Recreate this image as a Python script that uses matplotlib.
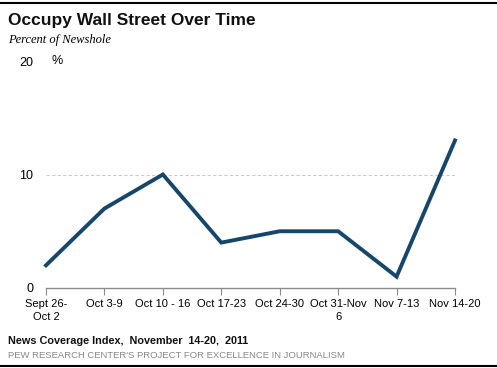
import matplotlib
matplotlib.use("Agg")
import matplotlib.pyplot as plt
from matplotlib.lines import Line2D

categories = ["Sept 26-\nOct 2", "Oct 3-9", "Oct 10 - 16", "Oct 17-23", "Oct 24-30",
              "Oct 31-Nov\n6", "Nov 7-13", "Nov 14-20"]
values = [2, 7, 10, 4, 5, 5, 1, 13]
yticks = [0, 10, 20]

W, H = 497, 368
fig = plt.figure(figsize=(W / 100, H / 100), dpi=100)
fig.patch.set_facecolor("white")
SANS = ["Liberation Sans", "DejaVu Sans"]

left, right, bottom, top = 46, 455, 288, 61
ax = fig.add_axes([left / W, 1 - bottom / H, (right - left) / W, (bottom - top) / H])
x = list(range(len(values)))
ax.plot(x, values, color="#16476b", lw=2.8, solid_joinstyle="miter", clip_on=False, zorder=3)
ax.set_xlim(0, len(values) - 1)
ax.set_ylim(0, 20)

for s in ["top", "right", "left"]:
    ax.spines[s].set_visible(False)
ax.spines["bottom"].set_color("#8c8c8c")
ax.spines["bottom"].set_linewidth(1.0)

ax.set_xticks(x)
ax.set_xticklabels(categories, fontsize=8, linespacing=1.3, family=SANS)
ax.tick_params(axis="x", direction="out", length=5, color="#8c8c8c", pad=3)
ax.set_yticks(yticks)
ax.set_yticklabels([str(v) for v in yticks], fontsize=9, family=SANS)
ax.tick_params(axis="y", length=0, pad=9)
ax.axhline(10, color="#cccccc", lw=0.8, ls=(0, (3, 2)), zorder=1)

ax.text(52 / W, 1 - 61 / H, "%", transform=fig.transFigure, fontsize=9, va="center",
        ha="left", family=SANS)

fig.text(8 / W, 1 - 21 / H, "Occupy Wall Street Over Time", fontsize=12.5, fontweight="bold",
         va="center", ha="left", color="#111111", family=SANS)
fig.text(8 / W, 1 - 40 / H, "Percent of Newshole", fontsize=9, fontstyle="italic",
         family="Liberation Serif", va="center", ha="left")
fig.text(8 / W, 1 - 341 / H, "News Coverage Index,  November  14-20,  2011", fontsize=7.8,
         fontweight="bold", va="center", ha="left", color="#111111", family=SANS)
fig.text(8 / W, 1 - 356 / H, "PEW RESEARCH CENTER'S PROJECT FOR EXCELLENCE IN JOURNALISM",
         fontsize=6.8, va="center", ha="left", color="#888888", family=SANS)

fig.add_artist(Line2D([0, 1], [1 - 3 / H, 1 - 3 / H], transform=fig.transFigure, color="black", lw=1.5))
fig.add_artist(Line2D([0, 1], [1 - 366 / H, 1 - 366 / H], transform=fig.transFigure, color="black", lw=1.5))

fig.savefig("out.png", dpi=100)
